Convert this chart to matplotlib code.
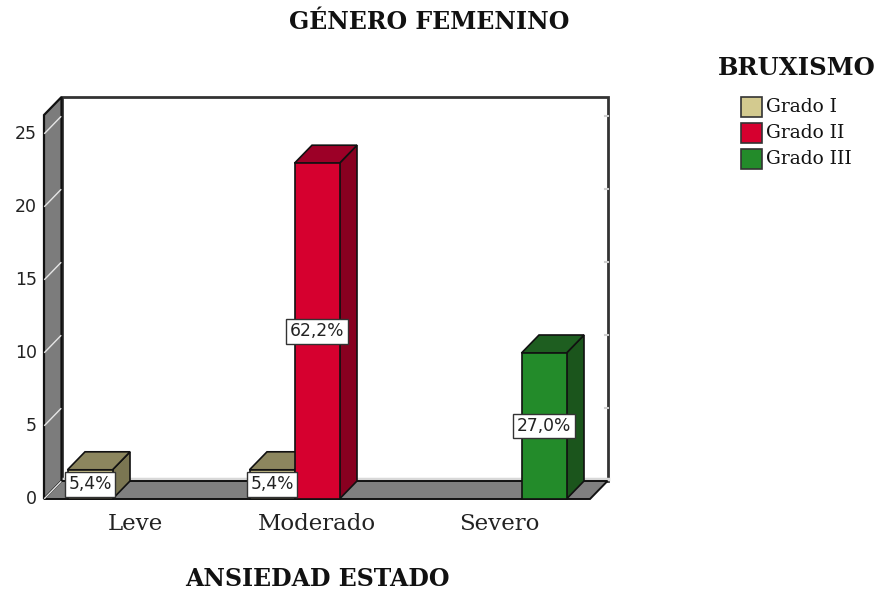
import matplotlib
matplotlib.use("Agg")
import matplotlib.pyplot as plt
from matplotlib.patches import Polygon, Rectangle

# ---------------- data ----------------
categories = ["Leve", "Moderado", "Severo"]
series = ["Grado I", "Grado II", "Grado III"]
grado_i = [2, 2, 0]
grado_ii = [0, 23, 0]
grado_iii = [0, 0, 10]
yticks = [0, 5, 10, 15, 20, 25]
title = "GÉNERO FEMENINO"
xlabel = "ANSIEDAD ESTADO"
legend_title = "BRUXISMO"

values = [grado_i, grado_ii, grado_iii]
total = sum(sum(v) for v in values)

# ---------------- style ----------------
front_col = ["#d3ca8f", "#d6002f", "#238b2a"]
top_col = ["#8c865e", "#9c0027", "#1e5e20"]
side_col = ["#7b7652", "#880020", "#1b551c"]
serif = ["DejaVu Serif"]
sans = ["DejaVu Sans"]

W_PX, H_PX = 881, 593
PX = 182.0   # pixels per category
PY = 14.6    # pixels per unit
X0, Y0 = 135.0, 499.0

fig = plt.figure(figsize=(W_PX / 100, H_PX / 100), dpi=100)
ax = fig.add_axes([0, 0, 1, 1])
ax.set_xlim(-X0 / PX, (W_PX - X0) / PX)
ax.set_ylim((Y0 - H_PX) / PY, Y0 / PY)
ax.axis("off")

DX = 17.5 / PX
DY = 18.0 / PY
BW = 45.0 / PX
x_left, x_right = -0.5, 2.5
y_top = 26.3

# back wall
ax.add_patch(Polygon([(x_left + DX, DY), (x_right + DX, DY), (x_right + DX, y_top + DY),
                      (x_left + DX, y_top + DY)], closed=True, facecolor="white",
                     edgecolor="#333333", lw=2.0, zorder=1))
ax.plot([x_left + DX, x_right + DX], [DY + 0.12, DY + 0.12], color="#d8d8d8", lw=2.5, zorder=1.5)
for v in yticks[1:]:
    ax.plot([x_right + DX - 0.012, x_right + DX], [v + DY, v + DY], color="#cfcfcf", lw=1.5, zorder=1.6)

# left wall
ax.add_patch(Polygon([(x_left, 0), (x_left + DX, DY), (x_left + DX, y_top + DY), (x_left, y_top)],
                     closed=True, facecolor="#7c7c7c", edgecolor="#111111", lw=1.6, zorder=2))
# floor
ax.add_patch(Polygon([(x_left, 0), (x_right, 0), (x_right + DX, DY), (x_left + DX, DY)],
                     closed=True, facecolor="#7f7f7f", edgecolor="#111111", lw=1.4, zorder=2))
for v in yticks:
    ax.plot([x_left + 0.004, x_left + DX - 0.004], [v + 0.05, v + DY - 0.05], color="#e6e6e6",
            lw=1.0, zorder=2.5)
    ax.text(x_left - 7 / PX, v, str(v), ha="right", va="center", fontsize=12.5,
            family=sans, color="#222222")

# bars
nser = len(series)
for ci, cat in enumerate(categories):
    for si in range(nser):
        h = values[si][ci]
        if h <= 0:
            continue
        xc = ci + (si - 1) * BW
        x0, x1 = xc - BW / 2, xc + BW / 2
        ax.add_patch(Polygon([(x1, 0), (x1 + DX, DY), (x1 + DX, h + DY), (x1, h)], closed=True,
                             facecolor=side_col[si], edgecolor="#111111", lw=1.2, zorder=3 + ci))
        ax.add_patch(Polygon([(x0, h), (x1, h), (x1 + DX, h + DY), (x0 + DX, h + DY)], closed=True,
                             facecolor=top_col[si], edgecolor="#111111", lw=1.2, zorder=3 + ci))
        ax.add_patch(Rectangle((x0, 0), BW, h, facecolor=front_col[si], edgecolor="#111111",
                               lw=1.2, zorder=3 + ci))
        pct = f"{100 * h / total:.1f}%".replace(".", ",")
        ax.text(xc, h / 2, pct, ha="center", va="center", fontsize=12.3, family=sans,
                color="#222222", zorder=10,
                bbox=dict(boxstyle="square,pad=0.2", facecolor="white", edgecolor="#333333", lw=1.0))
    ax.text(ci, (Y0 - 524) / PY, cat, ha="center", va="center", fontsize=16.5, family=serif,
            color="#222222")

ax.text(1, (Y0 - 579) / PY, xlabel, ha="center", va="center", fontsize=17, family=serif,
        fontweight="bold", color="#111111")
fig.text(429 / W_PX, 1 - 22 / H_PX, title, ha="center", va="center", fontsize=17, family=serif,
         fontweight="bold", color="#111111")

# legend
fig.text(797 / W_PX, 1 - 68 / H_PX, legend_title, ha="center", va="center", fontsize=17.5,
         family=serif, fontweight="bold", color="#111111")
for si, name in enumerate(series):
    ytop_px = 97 + 26 * si
    fig.patches.append(Rectangle((741 / W_PX, 1 - (ytop_px + 20) / H_PX), 21 / W_PX, 20 / H_PX,
                                 transform=fig.transFigure, facecolor=front_col[si],
                                 edgecolor="#333333", lw=1.2))
    fig.text(766 / W_PX, 1 - (ytop_px + 10) / H_PX, name, ha="left", va="center", fontsize=13.4,
             family=serif, color="#111111")

fig.savefig("out.png", dpi=100)
